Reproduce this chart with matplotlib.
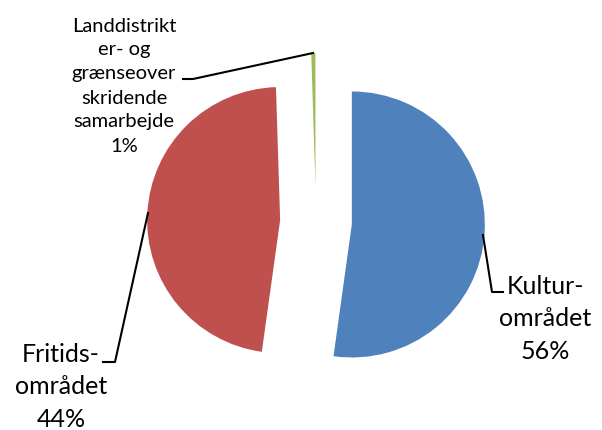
import matplotlib
matplotlib.use('Agg')
import matplotlib.pyplot as plt

# andele som de er tegnet i figuren (etiketterne viser 56/44/1)
names = ['Kultur-\nområdet', 'Fritids-\nområdet',
         'Landdistrikt\ner- og\ngrænseover\nskridende\nsamarbejde']
shares = [52.2, 47.3, 0.5]
pct_labels = ['56%', '44%', '1%']
colors = ['#4F81BD', '#C0504D', '#9BBB59']

R = 133.0          # pie radius in pixels
CX, CY = 316, 222  # pie centre in pixels


def px(x, y):
    return (x - CX) / R, (CY - y) / R


fig = plt.figure(figsize=(6.02, 4.30), dpi=100)
ax = fig.add_axes([0, 0, 1, 1])
ax.pie(shares, colors=colors, startangle=90, counterclock=False,
       explode=[0.27] * 3, wedgeprops=dict(linewidth=0))
ax.set_xlim(px(0, 0)[0], px(602, 0)[0])
ax.set_ylim(px(0, 430)[1], px(0, 0)[1])
ax.axis('off')

font = dict(family=['Lato', 'DejaVu Sans'], color='black', ha='center')

# Kultur
x, y = zip(px(483, 235), px(492, 292), px(503, 292))
ax.plot(x, y, color='black', lw=1.5)
ax.text(*px(545, 319), names[0] + '\n' + pct_labels[0], va='center',
        fontsize=18, linespacing=1.5, **font)

# Fritids
x, y = zip(px(148, 213), px(115, 362), px(103, 362))
ax.plot(x, y, color='black', lw=1.5)
ax.text(*px(61, 387), names[1] + '\n' + pct_labels[1], va='center',
        fontsize=18, linespacing=1.5, **font)

# Landdistrikter
x, y = zip(px(313, 53), px(193, 79), px(183, 79))
ax.plot(x, y, color='black', lw=1.5)
ax.text(*px(124, 86), names[2] + '\n' + pct_labels[2], va='center',
        fontsize=14.5, linespacing=1.5, **font)

fig.savefig('out.png', dpi=100)
